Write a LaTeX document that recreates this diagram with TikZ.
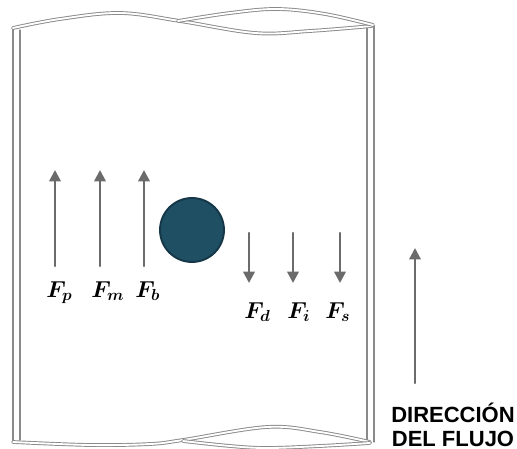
\documentclass[tikz,border=0pt]{standalone}
\usepackage{fontspec}
\usepackage{amsmath,bm}
\newfontfamily\labelfont{Liberation Sans}
\usetikzlibrary{arrows.meta}
\definecolor{wallgray}{HTML}{8A8A8A}
\definecolor{arrowgray}{HTML}{6B6B6B}
\definecolor{balltone}{HTML}{1F4F63}
\definecolor{balledge}{HTML}{143646}
\tikzset{
  wall/.style={draw=wallgray,line width=0.9pt},
  rim/.style={draw=wallgray,line width=0.7pt,double=white,double distance=1.4pt},
  force/.style={draw=arrowgray,line width=1.8pt,-{Triangle[length=8.5pt,width=8.5pt]}},
  forcelabel/.style={anchor=base west,inner sep=0pt,font=\fontsize{17.5}{19}\selectfont}
}
\begin{document}
\begin{tikzpicture}[x=0.75pt,y=-0.75pt,line cap=round,line join=round]
  \useasboundingbox (0,0) rectangle (517,449);
  % tube walls
  \draw[wall] (13,28) -- (13,441);
  \draw[wall] (20,30) -- (20,440);
  \draw[wall] (367,28) -- (367,441);
  \draw[wall] (374,26) -- (374,442);
  % top rim
  \draw[rim] plot[smooth,tension=0.6] coordinates {(13,28) (60,19) (120,13) (180,21) (255,33) (310,31) (372,26)};
  \draw[rim] plot[smooth,tension=0.6] coordinates {(178,21) (230,13) (277,9) (325,14) (373,25)};
  % bottom rim
  \draw[rim] plot[smooth,tension=0.6] coordinates {(13,442) (90,445) (150,444) (183,440) (267,427) (320,432) (370,442)};
  \draw[rim] plot[smooth,tension=0.6] coordinates {(183,441) (230,446) (267,448) (320,446) (370,443)};
  % particle
  \fill[balltone,draw=balledge,line width=1.4pt] (192,230) circle (32);
  % upward forces
  \coordinate (p0) at (55,266);  \coordinate (p1) at (55,170);
  \coordinate (m0) at (100,266); \coordinate (m1) at (100,170);
  \coordinate (b0) at (144,266); \coordinate (b1) at (144,170);
  \draw[force] (p0) -- (p1);
  \draw[force] (m0) -- (m1);
  \draw[force] (b0) -- (b1);
  \node[forcelabel] (Fp) at (46,297) {$\bm{F}_{\bm{p}}$};
  \node[forcelabel] (Fm) at (91,297) {$\bm{F}_{\bm{m}}$};
  \node[forcelabel] (Fb) at (135,297) {$\bm{F}_{\bm{b}}$};
  % downward forces
  \coordinate (d0) at (249,233); \coordinate (d1) at (249,283);
  \coordinate (i0) at (293,233); \coordinate (i1) at (293,283);
  \coordinate (s0) at (340,233); \coordinate (s1) at (340,283);
  \draw[force] (d0) -- (d1);
  \draw[force] (i0) -- (i1);
  \draw[force] (s0) -- (s1);
  \node[forcelabel] (Fd) at (244,318) {$\bm{F}_{\bm{d}}$};
  \node[forcelabel] (Fi) at (287,318) {$\bm{F}_{\bm{i}}$};
  \node[forcelabel] (Fs) at (325,318) {$\bm{F}_{\bm{s}}$};
  % flow direction
  \coordinate (flow0) at (415,383); \coordinate (flow1) at (415,248);
  \draw[force,line width=1.6pt] (flow0) -- (flow1);
  \node[align=center,inner sep=0pt,font=\labelfont\bfseries\fontsize{16.5}{17.5}\selectfont] (flowtext) at (453,425) {DIRECCIÓN\\DEL FLUJO};
\end{tikzpicture}
\end{document}
